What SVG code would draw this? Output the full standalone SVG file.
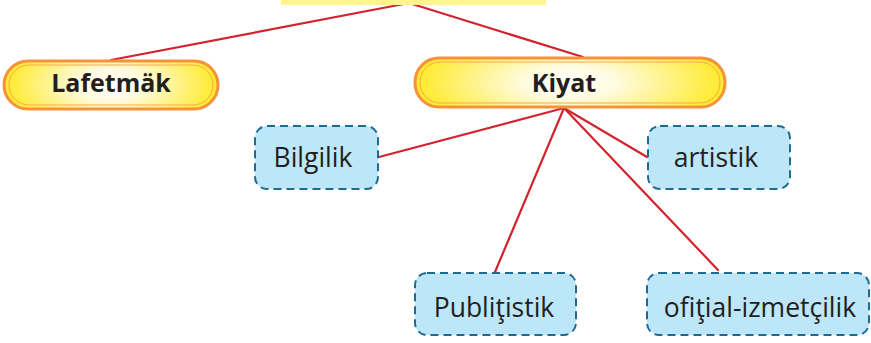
<svg xmlns="http://www.w3.org/2000/svg" width="871" height="343" viewBox="0 0 871 343">
<defs>
<radialGradient id="yg" cx="0.5" cy="0.5" r="0.5" gradientTransform="translate(0.5 0.5) scale(1 2.2) translate(-0.5 -0.5)">
<stop offset="0" stop-color="#ffffff"/>
<stop offset="0.3" stop-color="#fffbe0"/>
<stop offset="1" stop-color="#ffea28"/>
</radialGradient>
</defs>
<style>
.con{stroke:#d3232e;stroke-width:2.2;fill:none;stroke-linecap:round}
.yo{fill:url(#yg);stroke:#f5923a;stroke-width:3}
.yi{fill:none;stroke:#f7a850;stroke-width:1}
.bx{fill:#bde6f9;stroke:#1d6a93;stroke-width:2;stroke-dasharray:8 5}
.bt{font-family:"Open Sans","Liberation Sans",sans-serif;font-weight:bold;font-size:25px;fill:#231f20;text-anchor:middle}
.rt{font-family:"Open Sans","Liberation Sans",sans-serif;font-size:26.5px;fill:#231f20;text-anchor:middle}
</style>
<g id="connectors">
<line class="con" x1="409" y1="3" x2="111" y2="60"/>
<line class="con" x1="409" y1="3" x2="583" y2="57"/>
<line class="con" x1="564" y1="108" x2="379" y2="157"/>
<line class="con" x1="564" y1="108" x2="647" y2="157"/>
<line class="con" x1="564" y1="108" x2="495" y2="272"/>
<line class="con" x1="564" y1="108" x2="718" y2="270"/>
</g>
<g id="top">
<rect x="281" y="-20" width="265" height="25" fill="#fff48f"/>
</g>
<g id="lafetmak">
<rect class="yo" x="4" y="61" width="214" height="48" rx="24"/>
<rect class="yi" x="9" y="65" width="204" height="40" rx="20"/>
<text class="bt" x="111" y="92">Lafetmäk</text>
</g>
<g id="kiyat">
<rect class="yo" x="415" y="58" width="310" height="49" rx="24"/>
<rect class="yi" x="420" y="62" width="300" height="41" rx="20"/>
<text class="bt" x="564" y="92">Kiyat</text>
</g>
<g id="bilgilik">
<rect class="bx" x="255" y="126" width="123" height="63" rx="12"/>
<text class="rt" x="313" y="167">Bilgilik</text>
</g>
<g id="artistik">
<rect class="bx" x="648" y="126" width="142" height="63" rx="12"/>
<text class="rt" x="716" y="167">artistik</text>
</g>
<g id="publitistik">
<rect class="bx" x="415" y="273" width="161" height="62" rx="12"/>
<text class="rt" x="494" y="317">Publiţistik</text>
</g>
<g id="ofitial">
<rect class="bx" x="647" y="273" width="222" height="62" rx="12"/>
<text class="rt" x="760" y="317">ofiţial-izmetçilik</text>
</g>
</svg>
